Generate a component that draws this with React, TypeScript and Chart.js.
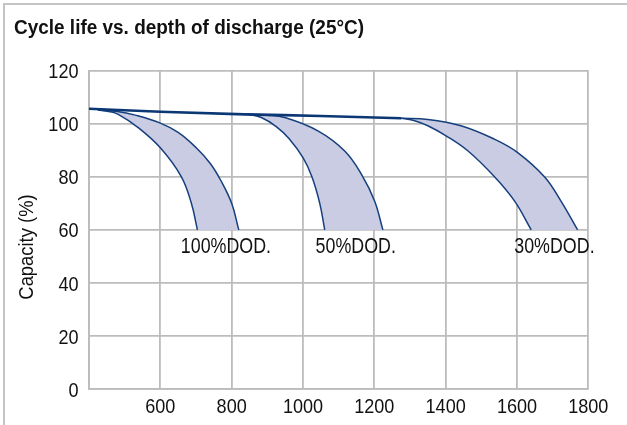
import { useEffect, useRef } from "react";
import { Chart, registerables } from "chart.js";
Chart.register(...registerables);

const titleText = "Cycle life vs. depth of discharge (25°C)";
const yAxisTitle = "Capacity (%)";
const xMin = 400;
const xMax = 1800;
const xStep = 200;
const yMin = 0;
const yMax = 120;
const yStep = 20;

// trend of capacity before the knee
const mainX = [400, 600, 837, 1050, 1276];
const mainY = [105.6, 104.5, 103.5, 102.9, 102.0];

// 100% DOD band
const d100InnerX = [425, 455, 482, 538, 600, 659, 687, 704];
const d100InnerY = [105.1, 104.6, 103.5, 98.5, 90.9, 80.0, 70.0, 60.0];
const d100OuterX = [425, 480, 530, 600, 650, 700, 740, 770, 800, 820];
const d100OuterY = [105.1, 104.6, 103.2, 100.2, 96.7, 91.0, 85.0, 78.5, 70.0, 60.0];

// 50% DOD band
const d50InnerX = [846, 883, 925, 960, 1000, 1025, 1047, 1061];
const d50InnerY = [103.5, 102.3, 98.9, 94.5, 87.2, 80.0, 70.0, 60.0];
const d50OuterX = [846, 900, 949, 1043, 1117, 1164, 1201, 1224];
const d50OuterY = [103.5, 103.2, 102.3, 97.2, 89.7, 80.9, 70.8, 60.0];

// 30% DOD band
const d30InnerX = [1276, 1313, 1350, 1400, 1462, 1537, 1593, 1640];
const d30InnerY = [102.0, 101.1, 99.2, 95.5, 89.8, 80.0, 70.9, 60.0];
const d30OuterX = [1276, 1350, 1443, 1536, 1601, 1677, 1723, 1770];
const d30OuterY = [102.0, 101.6, 99.2, 94.2, 89.2, 80.0, 70.9, 60.0];

const dodLabels = ["100%DOD.", "50%DOD.", "30%DOD."];
const dodLabelX = [784, 1148, 1705];
const dodLabelY = 51.2;

const FAMILY = '"Liberation Sans", Arial, sans-serif';
const LINE = "#163f7e";
const MAIN = "#0b3775";
const FILL = "#c9cce3";
const GRID = "#bcbcbc";
const INK = "#111";

const pts = (xs: number[], ys: number[]) => xs.map((x, i) => ({ x, y: ys[i] }));

function drawText(ctx: any, text: string, x: number, y: number, font: string, sx: number, align: string, rot = 0) {
  ctx.save();
  ctx.font = font;
  ctx.fillStyle = INK;
  ctx.textAlign = align;
  ctx.textBaseline = "alphabetic";
  ctx.translate(x, y);
  if (rot) ctx.rotate(rot);
  ctx.scale(sx, 1);
  ctx.fillText(text, 0, 0);
  ctx.restore();
}

// pairs of [outer, inner] dataset indexes whose gap is shaded
const bandPairs = [[1, 2], [3, 4], [5, 6]];

const bandFill = {
  id: "bandFill",
  beforeDatasetsDraw(chart: any) {
    const { ctx, chartArea } = chart;
    ctx.save();
    ctx.beginPath();
    ctx.rect(chartArea.left, chartArea.top, chartArea.right - chartArea.left, chartArea.bottom - chartArea.top);
    ctx.clip();
    ctx.fillStyle = FILL;
    bandPairs.forEach(([o, i]) => {
      const oEl = chart.getDatasetMeta(o).dataset;
      const iEl = chart.getDatasetMeta(i).dataset;
      oEl.updateControlPoints(chartArea, "x");
      iEl.updateControlPoints(chartArea, "x");
      ctx.beginPath();
      oEl.pathSegment(ctx, oEl.segments[0], { move: true });
      iEl.pathSegment(ctx, iEl.segments[0], { move: false, reverse: true });
      ctx.closePath();
      ctx.fill();
    });
    ctx.restore();
  },
};

const textPlugin = {
  id: "textPlugin",
  afterDatasetsDraw(chart: any) {
    const { ctx, scales } = chart;
    const x = scales.x;
    const y = scales.y;
    const tickFont = `21px ${FAMILY}`;
    x.ticks.forEach((t: any, i: number) => {
      if (t.value === xMin) return;
      drawText(ctx, String(t.value), x.getPixelForTick(i), 413, tickFont, 0.86, "center");
    });
    y.ticks.forEach((t: any, i: number) => {
      drawText(ctx, String(t.value), 78.5, y.getPixelForTick(i) + 7.5, tickFont, 0.86, "right");
    });
    dodLabels.forEach((t, i) => {
      drawText(ctx, t, x.getPixelForValue(dodLabelX[i]), y.getPixelForValue(dodLabelY), `21.5px ${FAMILY}`, 0.83, "center");
    });
    drawText(ctx, titleText, 14, 33.5, `bold 20px ${FAMILY}`, 0.948, "left");
    drawText(ctx, yAxisTitle, 32.5, 247, `20px ${FAMILY}`, 0.92, "center", -Math.PI / 2);
  },
};

export default function App() {
  const ref = useRef<HTMLCanvasElement>(null);
  useEffect(() => {
    if (!ref.current) return;
    const curve = (xs: number[], ys: number[]) => ({
      data: pts(xs, ys),
      borderColor: LINE,
      borderWidth: 1.5,
      fill: false,
      pointRadius: 0,
      tension: 0.4,
      showLine: true,
    });
    const chart = new Chart(ref.current, {
      type: "scatter",
      data: {
        datasets: [
          {
            data: pts(mainX, mainY),
            borderColor: MAIN,
            borderWidth: 2.6,
            pointRadius: 0,
            showLine: true,
            fill: false,
            cubicInterpolationMode: "monotone",
          },
          curve(d100OuterX, d100OuterY),
          curve(d100InnerX, d100InnerY),
          curve(d50OuterX, d50OuterY),
          curve(d50InnerX, d50InnerY),
          curve(d30OuterX, d30OuterY),
          curve(d30InnerX, d30InnerY),
        ] as any,
      },
      options: {
        animation: false,
        responsive: false,
        maintainAspectRatio: false,
        layout: { padding: { left: 0, right: 38.7, top: 70.5, bottom: 0 } },
        plugins: { legend: { display: false }, tooltip: { enabled: false }, title: { display: false } },
        scales: {
          x: {
            type: "linear",
            min: xMin,
            max: xMax,
            afterFit: (s: any) => { s.height = 425 - 389.3; },
            ticks: { stepSize: xStep, display: false },
            grid: { color: GRID, lineWidth: 1.8, drawTicks: false },
            border: { color: GRID, width: 1.8 },
          },
          y: {
            min: yMin,
            max: yMax,
            afterFit: (s: any) => { s.width = 89; },
            ticks: { stepSize: yStep, display: false },
            grid: { color: GRID, lineWidth: 1.8, drawTicks: false },
            border: { color: GRID, width: 1.8 },
          },
        },
      },
      plugins: [bandFill, textPlugin],
    });
    return () => chart.destroy();
  }, []);
  return (
    <div style={{ position: "absolute", left: 0, top: 0, width: 627, height: 425, background: "#fff", overflow: "hidden" }}>
      <div style={{ position: "absolute", left: 3, top: 3, right: -4, bottom: -4, borderTop: "2px solid #c4c4c4", borderLeft: "2px solid #c4c4c4" }} />
      <canvas ref={ref} width={627} height={425} style={{ position: "absolute", left: 0, top: 0, width: 627, height: 425 }} />
    </div>
  );
}
